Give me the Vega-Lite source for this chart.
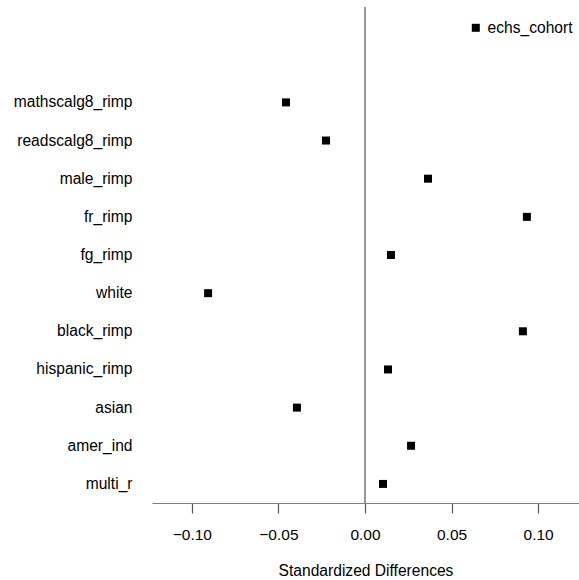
{
  "$schema": "https://vega.github.io/schema/vega-lite/v6.json",
  "autosize": {"type": "none"},
  "padding": {"left": 152, "top": 7, "right": 0, "bottom": 77},
  "width": 427,
  "height": 496,
  "background": "white",
  "config": {
    "view": {"stroke": null},
    "font": "Liberation Sans"
  },
  "data": {
    "values": [
      {"variable": "mathscalg8_rimp", "diff": -0.0456, "group": "echs_cohort"},
      {"variable": "readscalg8_rimp", "diff": -0.0225, "group": "echs_cohort"},
      {"variable": "male_rimp", "diff": 0.0364, "group": "echs_cohort"},
      {"variable": "fr_rimp", "diff": 0.0935, "group": "echs_cohort"},
      {"variable": "fg_rimp", "diff": 0.0150, "group": "echs_cohort"},
      {"variable": "white", "diff": -0.0906, "group": "echs_cohort"},
      {"variable": "black_rimp", "diff": 0.0912, "group": "echs_cohort"},
      {"variable": "hispanic_rimp", "diff": 0.0133, "group": "echs_cohort"},
      {"variable": "asian", "diff": -0.0393, "group": "echs_cohort"},
      {"variable": "amer_ind", "diff": 0.0266, "group": "echs_cohort"},
      {"variable": "multi_r", "diff": 0.0104, "group": "echs_cohort"}
    ]
  },
  "layer": [
    {
      "mark": {"type": "rule", "color": "#999999", "strokeWidth": 1.5},
      "encoding": {"x": {"datum": 0, "type": "quantitative"}}
    },
    {
      "mark": {"type": "point", "shape": "square", "filled": true, "size": 64, "opacity": 1},
      "encoding": {
        "x": {
          "field": "diff",
          "type": "quantitative",
          "scale": {"domain": [-0.123, 0.1236], "nice": false, "zero": false},
          "axis": {
            "title": "Standardized Differences",
            "values": [-0.1, -0.05, 0, 0.05, 0.1],
            "format": ".2f",
            "grid": false,
            "domainColor": "#808080",
            "domainWidth": 1.2,
            "tickColor": "#555555",
            "tickWidth": 1.2,
            "tickSize": 10,
            "labelPadding": 14,
            "labelFontSize": 15.5,
            "labelColor": "#000000",
            "labelFont": "Liberation Sans",
            "titleFont": "Liberation Sans",
            "titleFontSize": 15.6,
            "titleFontWeight": "normal",
            "titleColor": "#000000",
            "titlePadding": 21
          }
        },
        "y": {
          "field": "variable",
          "type": "nominal",
          "sort": null,
          "scale": {"type": "band", "paddingInner": 0, "paddingOuter": 1.0, "align": 1},
          "axis": {
            "title": null,
            "domain": false,
            "ticks": false,
            "grid": false,
            "labelPadding": 20,
            "labelFontSize": 15.6,
            "labelColor": "#000000",
            "labelFont": "Liberation Sans"
          }
        },
        "color": {
          "field": "group",
          "type": "nominal",
          "scale": {"range": ["#000000"]},
          "legend": {
            "title": null,
            "orient": "none",
            "legendX": 316,
            "legendY": 13,
            "padding": 0,
            "symbolType": "square",
            "symbolSize": 64,
            "symbolFillColor": "#000000",
            "symbolStrokeWidth": 0,
            "labelFontSize": 15.6,
            "labelColor": "#000000",
            "labelFont": "Liberation Sans",
            "labelOffset": 4
          }
        }
      }
    }
  ]
}
